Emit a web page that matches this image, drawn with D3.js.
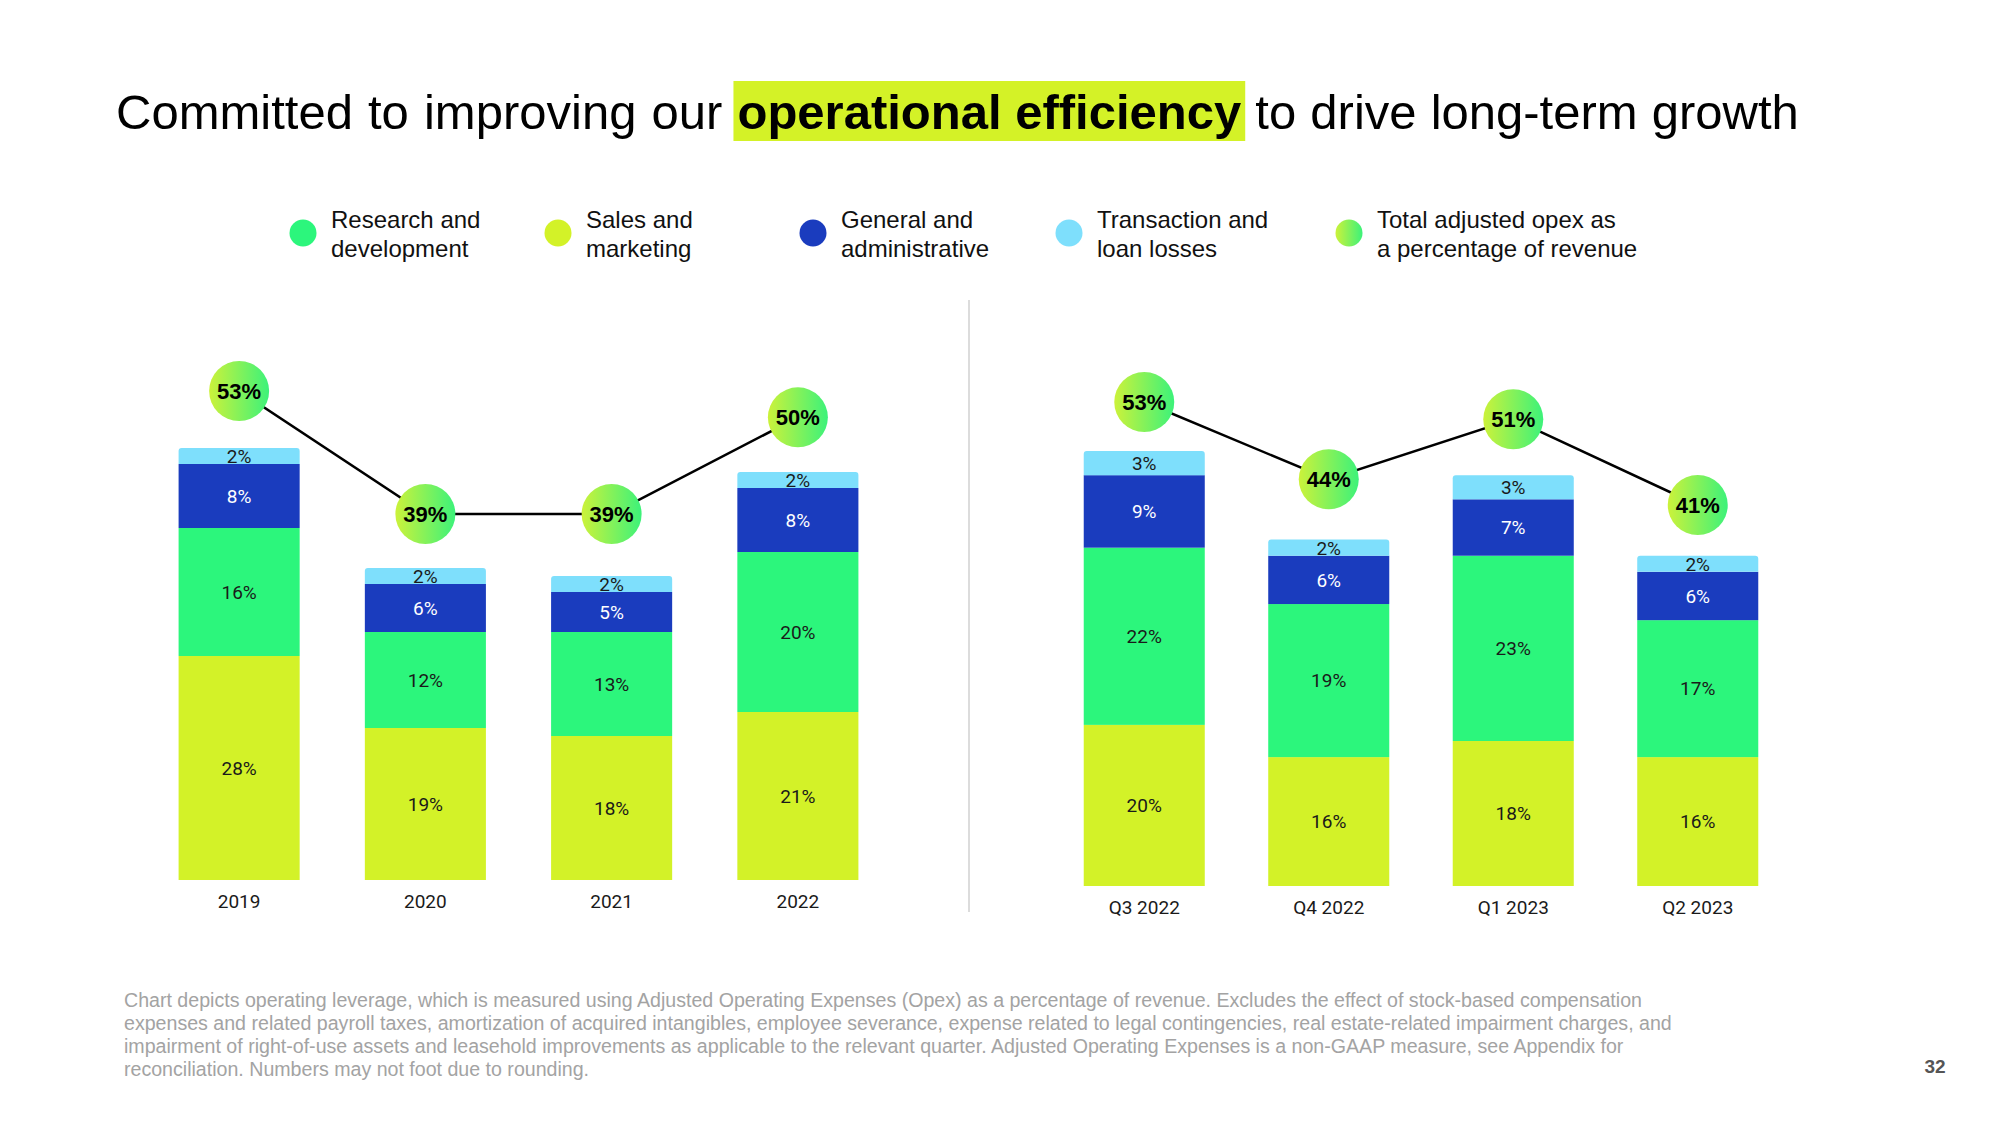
<!DOCTYPE html>
<html>
<head>
<meta charset="utf-8">
<script src="https://cdn.jsdelivr.net/npm/d3@7"></script>
<style>
  html, body { margin: 0; padding: 0; background: #fff; }
  svg { display: block; }
</style>
</head>
<body>
<svg id="chart" width="2000" height="1125"></svg>
<script>
// ---------- DATA ----------
const titleParts = ["Committed to improving our ", "operational efficiency", " to drive long-term growth"];

const seriesKeys = ["sales", "rd", "ga", "tx"];
const legendLabels = [
  ["Research and", "development"],
  ["Sales and", "marketing"],
  ["General and", "administrative"],
  ["Transaction and", "loan losses"],
  ["Total adjusted opex as", "a percentage of revenue"]
];

const annualCategories = ["2019", "2020", "2021", "2022"];
const annualSales = [28, 19, 18, 21];
const annualRD = [16, 12, 13, 20];
const annualGA = [8, 6, 5, 8];
const annualTx = [2, 2, 2, 2];
const annualTotal = [53, 39, 39, 50];

const quarterCategories = ["Q3 2022", "Q4 2022", "Q1 2023", "Q2 2023"];
const quarterSales = [20, 16, 18, 16];
const quarterRD = [22, 19, 23, 17];
const quarterGA = [9, 6, 7, 6];
const quarterTx = [3, 2, 3, 2];
const quarterTotal = [53, 44, 51, 41];

const footnoteLines = [
  "Chart depicts operating leverage, which is measured using Adjusted Operating Expenses (Opex) as a percentage of revenue. Excludes the effect of stock-based compensation",
  "expenses and related payroll taxes, amortization of acquired intangibles, employee severance, expense related to legal contingencies, real estate-related impairment charges, and",
  "impairment of right-of-use assets and leasehold improvements as applicable to the relevant quarter. Adjusted Operating Expenses is a non-GAAP measure, see Appendix for",
  "reconciliation. Numbers may not foot due to rounding."
];
const pageNumber = "32";

// ---------- STYLE ----------
const colors = { sales: "#d3f228", rd: "#2cf67c", ga: "#1a3cbe", tx: "#7edffc" };
const labelColors = { sales: "#1a1a1a", rd: "#1a1a1a", ga: "#ffffff", tx: "#1a1a1a" };
const highlight = "#d4f227";

const svg = d3.select("#chart");
const defs = svg.append("defs");
const grad = defs.append("linearGradient").attr("id", "circGrad")
  .attr("x1", "0%").attr("x2", "100%").attr("y1", "0%").attr("y2", "0%");
grad.append("stop").attr("offset", "0%").attr("stop-color", "#ccf23a");
grad.append("stop").attr("offset", "100%").attr("stop-color", "#3cf27a");

// ---------- TITLE ----------
const titleX = 116, titleY = 129;
const title = svg.append("text")
  .attr("x", titleX).attr("y", titleY)
  .attr("font-family", "'Liberation Sans', Arial, sans-serif")
  .attr("font-size", 49).attr("fill", "#000");
title.append("tspan").attr("word-spacing", 1.5).text(titleParts[0]);
title.append("tspan").attr("font-weight", "bold").text(titleParts[1]);
title.append("tspan").attr("word-spacing", 0.5).text(titleParts[2]);
const tnode = title.node();
const w0 = tnode.getSubStringLength(0, titleParts[0].length);
const w1 = tnode.getSubStringLength(titleParts[0].length, titleParts[1].length);
svg.insert("rect", "text")
  .attr("x", titleX + w0 - 4).attr("y", 81)
  .attr("width", w1 + 8).attr("height", 60)
  .attr("fill", highlight);

// ---------- LEGEND ----------
const legendFills = [colors.rd, colors.sales, colors.ga, colors.tx, "url(#circGrad)"];
const legendXs = [303, 558, 813, 1069, 1349];
const lg = svg.append("g");
legendLabels.forEach((lines, i) => {
  const cx = legendXs[i];
  lg.append("circle").attr("cx", cx).attr("cy", 233).attr("r", 13.5).attr("fill", legendFills[i]);
  const t = lg.append("text")
    .attr("font-family", "'Liberation Sans', Arial, sans-serif")
    .attr("font-size", 24).attr("fill", "#111");
  lines.forEach((ln, j) => {
    t.append("tspan").attr("x", cx + 28).attr("y", 228 + j * 29).text(ln);
  });
});

// ---------- DIVIDER ----------
svg.append("line").attr("x1", 969).attr("x2", 969).attr("y1", 300).attr("y2", 912)
  .attr("stroke", "#d0d0d0").attr("stroke-width", 1.5);

// ---------- PANELS ----------
function roundedTopPath(x, y, w, h, r) {
  r = Math.min(r, h, w / 2);
  return `M${x},${y + h} L${x},${y + r} Q${x},${y} ${x + r},${y} L${x + w - r},${y} Q${x + w},${y} ${x + w},${y + r} L${x + w},${y + h} Z`;
}

function drawPanel(cfg) {
  const rows = cfg.categories.map((c, i) => ({
    cat: c, sales: cfg.sales[i], rd: cfg.rd[i], ga: cfg.ga[i], tx: cfg.tx[i], total: cfg.total[i]
  }));
  const x = d3.scaleBand().domain(cfg.categories).range(cfg.xRange)
    .paddingInner(cfg.padInner).paddingOuter(cfg.padInner / 2);
  const y = d3.scaleLinear().domain([0, 54]).range(cfg.yRange);
  const yc = d3.scaleLinear().domain(cfg.circDomain).range(cfg.circRange);
  const stack = d3.stack().keys(seriesKeys)(rows);

  const g = svg.append("g");
  stack.forEach(layer => {
    const key = layer.key;
    const lay = g.append("g");
    layer.forEach(d => {
      const x0 = x(d.data.cat), bw = x.bandwidth();
      const yTop = y(d[1]), yBot = y(d[0]);
      if (key === "tx") {
        lay.append("path").attr("d", roundedTopPath(x0, yTop, bw, yBot - yTop, 3)).attr("fill", colors[key]);
      } else {
        lay.append("rect").attr("x", x0).attr("y", yTop).attr("width", bw).attr("height", yBot - yTop)
          .attr("fill", colors[key]);
      }
      lay.append("text")
        .attr("x", x0 + bw / 2).attr("y", (yTop + yBot) / 2)
        .attr("dy", "0.36em").attr("text-anchor", "middle")
        .attr("font-family", "Roboto, sans-serif").attr("font-size", 19)
        .attr("fill", labelColors[key])
        .text(d.data[key] + "%");
    });
  });

  // category axis
  const axis = d3.axisBottom(x).tickSize(0).tickPadding(15);
  const ax = g.append("g").attr("transform", `translate(0,${cfg.yRange[0]})`).call(axis);
  ax.select(".domain").remove();
  ax.selectAll("text").attr("font-family", "Roboto, sans-serif").attr("font-size", 19).attr("fill", "#1a1a1a");

  // total line
  const cx = d => x(d.cat) + x.bandwidth() / 2;
  g.append("path").datum(rows)
    .attr("d", d3.line().x(cx).y(d => yc(d.total)))
    .attr("fill", "none").attr("stroke", "#000").attr("stroke-width", 2.5);
  rows.forEach(d => {
    g.append("circle").attr("cx", cx(d)).attr("cy", yc(d.total)).attr("r", 30).attr("fill", "url(#circGrad)");
    g.append("text").attr("x", cx(d)).attr("y", yc(d.total)).attr("dy", "0.36em")
      .attr("text-anchor", "middle")
      .attr("font-family", "'Liberation Sans', Arial, sans-serif")
      .attr("font-weight", "bold").attr("font-size", 22).attr("fill", "#000")
      .text(d.total + "%");
  });
}

drawPanel({
  categories: annualCategories, sales: annualSales, rd: annualRD, ga: annualGA, tx: annualTx, total: annualTotal,
  xRange: [146, 891], padInner: 0.35, yRange: [880, 448],
  circDomain: [39, 53], circRange: [514, 391]
});
drawPanel({
  categories: quarterCategories, sales: quarterSales, rd: quarterRD, ga: quarterGA, tx: quarterTx, total: quarterTotal,
  xRange: [1052, 1790], padInner: 0.344, yRange: [886, 451],
  circDomain: [41, 53], circRange: [505, 402]
});

// ---------- FOOTNOTE ----------
const fn = svg.append("text")
  .attr("font-family", "'Liberation Sans', Arial, sans-serif")
  .attr("font-size", 19.6).attr("fill", "#a3a3a3");
footnoteLines.forEach((ln, i) => {
  fn.append("tspan").attr("x", 124).attr("y", 1007 + i * 23).text(ln);
});
svg.append("text").attr("x", 1935).attr("y", 1073).attr("text-anchor", "middle")
  .attr("font-family", "'Liberation Sans', Arial, sans-serif").attr("font-weight", "bold")
  .attr("font-size", 19).attr("fill", "#555").text(pageNumber);
</script>
</body>
</html>
